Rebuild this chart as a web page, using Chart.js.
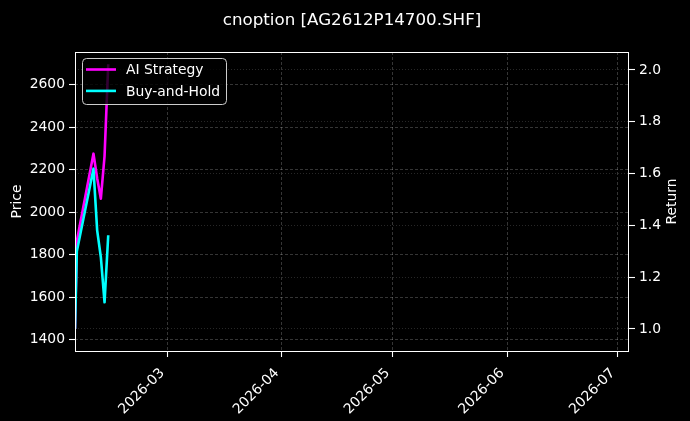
<!DOCTYPE html>
<html>
<head>
<meta charset="utf-8">
<script src="https://cdn.jsdelivr.net/npm/chart.js@4.4.1/dist/chart.umd.min.js"></script>
<style>
  html, body { margin: 0; padding: 0; background: #000; }
</style>
</head>
<body>
<canvas id="c" width="690" height="421"></canvas>
<script>
// --- data ---
const chartTitle = 'cnoption [AG2612P14700.SHF]';
const dates = ['2026-02-04T00:00', '2026-02-04T12:00', '2026-02-09T00:00', '2026-02-10T00:00',
               '2026-02-11T00:00', '2026-02-12T00:00', '2026-02-13T00:00'];
const aiStrategy = [1.00, 1.34, 1.677, 1.582, 1.503, 1.667, 2.022];
const buyAndHold = [1.00, 1.30, 1.619, 1.381, 1.277, 1.103, 1.362];
const monthTicks = ['2026-03-01T00:00', '2026-04-01T00:00', '2026-05-01T00:00', '2026-06-01T00:00', '2026-07-01T00:00'];
const priceTicks = [1400, 1600, 1800, 2000, 2200, 2400, 2600];
const returnTicks = [1.0, 1.2, 1.4, 1.6, 1.8, 2.0];
const xRange = ['2026-02-04T00:00', '2026-07-04T00:00'];
const priceRange = [1346, 2753];
const returnRange = [0.915, 2.0695];

const t = (s) => Date.parse(s + ':00Z');
const fmtMonth = (v) => {
    const d = new Date(v);
    return d.getUTCFullYear() + '-' + String(d.getUTCMonth() + 1).padStart(2, '0');
};
const pts = (ys) => dates.map((d, i) => ({ x: t(d), y: ys[i] }));

Chart.defaults.font.family = '"DejaVu Sans", sans-serif';
Chart.defaults.font.size = 13.9;
Chart.defaults.color = '#fff';

// frame, title, axis titles and legend drawn like matplotlib does them
const overlay = {
    id: 'overlay',
    afterDraw(chart) {
        const { ctx, chartArea: a } = chart;
        const midY = (a.top + a.bottom) / 2;
        ctx.save();
        ctx.strokeStyle = '#fff';
        ctx.lineWidth = 1;
        ctx.strokeRect(a.left + 0.5, a.top + 0.5, a.right - a.left - 1, a.bottom - a.top);

        ctx.fillStyle = '#fff';
        ctx.textAlign = 'center';
        ctx.textBaseline = 'middle';
        ctx.font = '16.7px "DejaVu Sans"';
        ctx.fillText(chartTitle, (a.left + a.right) / 2, 21);

        ctx.font = '13.9px "DejaVu Sans"';
        [['Price', 17], ['Return', 672]].forEach(([txt, x]) => {
            ctx.save();
            ctx.translate(x, midY);
            ctx.rotate(-Math.PI / 2);
            ctx.fillText(txt, 0, 0);
            ctx.restore();
        });

        // legend
        const lx = 82, ly = 58, lw = 144, lh = 46;
        ctx.beginPath();
        ctx.roundRect(lx + 0.5, ly + 0.5, lw, lh, 4);
        ctx.fillStyle = 'rgba(0,0,0,0.8)';
        ctx.fill();
        ctx.strokeStyle = '#cccccc';
        ctx.lineWidth = 1;
        ctx.stroke();
        ctx.textAlign = 'left';
        chart.data.datasets.forEach((ds, i) => {
            const y = ly + 11.5 + i * 21.4;
            ctx.beginPath();
            ctx.moveTo(lx + 4, y);
            ctx.lineTo(lx + 34, y);
            ctx.strokeStyle = ds.borderColor;
            ctx.lineWidth = 2.6;
            ctx.stroke();
            ctx.fillStyle = '#fff';
            ctx.fillText(ds.label, lx + 44, y + 1);
        });
        ctx.restore();
    }
};

const tickFont = { family: '"DejaVu Sans"', size: 13.9 };

new Chart(document.getElementById('c'), {
    type: 'line',
    data: {
        datasets: [
            { label: 'AI Strategy', data: pts(aiStrategy), borderColor: '#ff00ff', yAxisID: 'y1', order: 2 },
            { label: 'Buy-and-Hold', data: pts(buyAndHold), borderColor: '#00ffff', yAxisID: 'y1', order: 1 }
        ]
    },
    options: {
        responsive: false,
        animation: false,
        layout: { padding: { top: 52, left: 0, right: 0, bottom: 0 } },
        elements: {
            point: { radius: 0 },
            line: { borderWidth: 2.6, tension: 0, borderJoinStyle: 'round', fill: false }
        },
        plugins: { legend: { display: false }, title: { display: false }, tooltip: { enabled: false } },
        scales: {
            x: {
                type: 'linear',
                min: t(xRange[0]), max: t(xRange[1]),
                afterBuildTicks: (s) => { s.ticks = monthTicks.map(m => ({ value: t(m) })); },
                afterFit: (s) => { s.height = 70; },
                ticks: { color: '#fff', font: tickFont, minRotation: 45, maxRotation: 45, padding: 8, labelOffset: -5, autoSkip: false, callback: fmtMonth },
                grid: { color: 'rgba(255,255,255,0.3)', lineWidth: 0.7, tickColor: '#fff', tickLength: 6, tickWidth: 1.1 },
                border: { display: false, dash: [3, 2] }
            },
            y: {
                position: 'left',
                min: priceRange[0], max: priceRange[1],
                afterBuildTicks: (s) => { s.ticks = priceTicks.map(v => ({ value: v })); },
                afterFit: (s) => { s.width = 75; },
                ticks: { color: '#fff', font: tickFont, padding: 4, callback: (v) => String(v) },
                grid: { color: 'rgba(255,255,255,0.3)', lineWidth: 0.7, tickColor: '#fff', tickLength: 6, tickWidth: 1.1 },
                border: { display: false, dash: [3, 2] }
            },
            y1: {
                position: 'right',
                min: returnRange[0], max: returnRange[1],
                afterBuildTicks: (s) => { s.ticks = returnTicks.map(v => ({ value: v })); },
                afterFit: (s) => { s.width = 61; },
                ticks: { color: '#fff', font: tickFont, padding: 4, callback: (v) => v.toFixed(1) },
                grid: { color: 'rgba(255,255,255,0.22)', lineWidth: 0.7, tickColor: '#fff', tickLength: 6, tickWidth: 1.1 },
                border: { display: false, dash: [1, 2] }
            }
        }
    },
    plugins: [overlay]
});
</script>
</body>
</html>
